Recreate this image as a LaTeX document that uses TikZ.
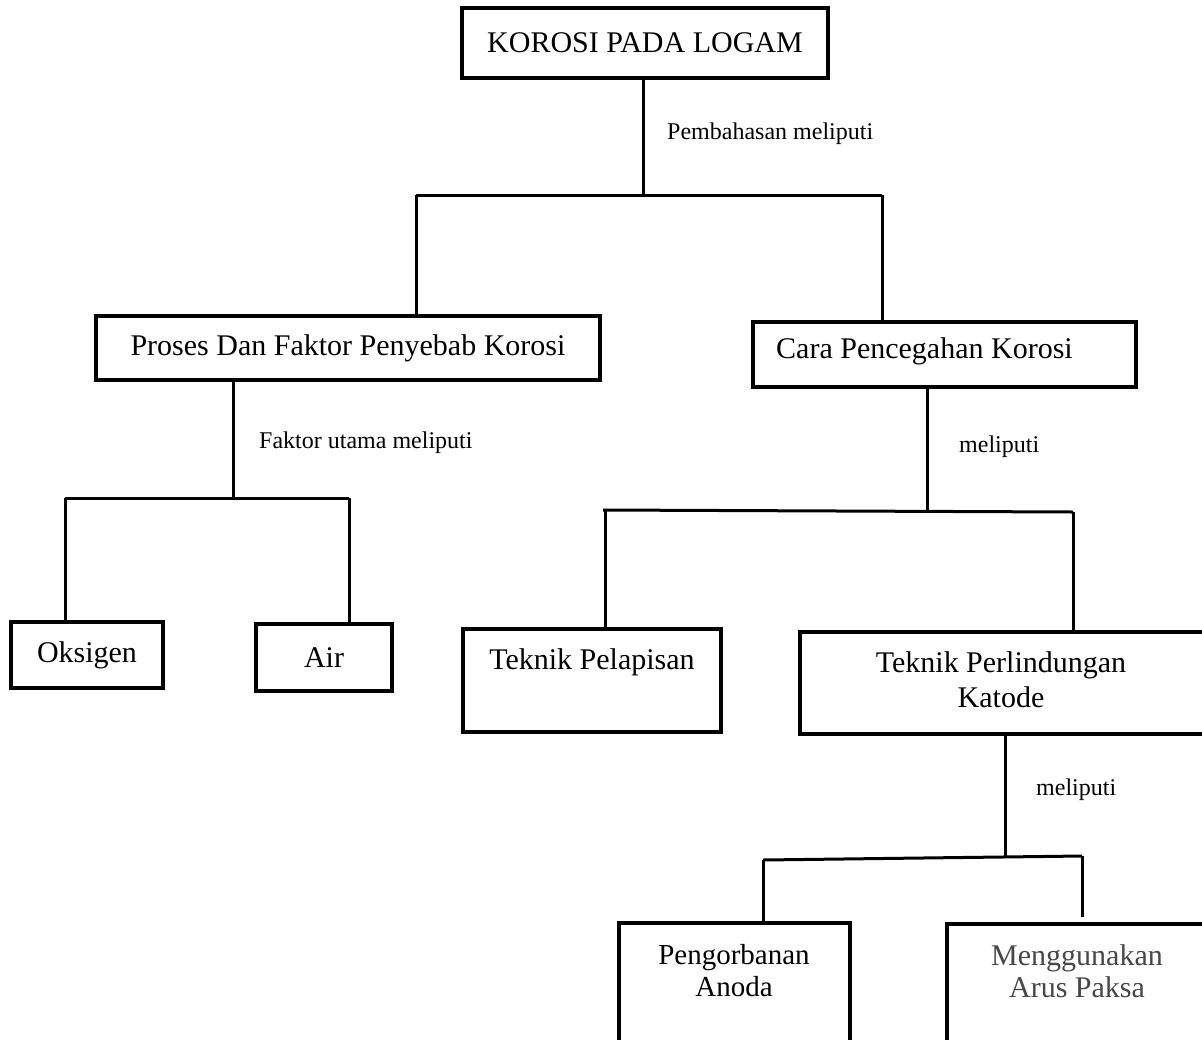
\documentclass[tikz,border=0pt]{standalone}
\usepackage{fontspec}
\setmainfont{Liberation Serif}
\tikzset{
  box/.style={draw, line width=3.6pt, inner sep=0pt, font=\fontsize{30}{35}\selectfont},
  boxtext/.style={inner sep=0pt, align=center, font=\fontsize{30}{35}\selectfont},
  lbl/.style={inner sep=0pt, anchor=west, font=\fontsize{24}{28}\selectfont},
  link/.style={line width=3pt}
}
\begin{document}
\begin{tikzpicture}[x=1pt, y=-1pt]
      \useasboundingbox (0,0) rectangle (1202,1039);
      \clip (0,0) rectangle (1202,1039);
      \node[box, minimum width=366, minimum height=70] (top) at (645,43) {KOROSI PADA LOGAM};
      \node[box, minimum width=504, minimum height=64] (proses) at (348,348) {Proses Dan Faktor Penyebab Korosi};
      \node[box, minimum width=383, minimum height=65] (cara) at (944.5,354.5) {};
      \node[boxtext, anchor=west] (caratxt) at (776,351) {Cara Pencegahan Korosi};
      \node[box, minimum width=152, minimum height=66] (oksigen) at (87,655) {Oksigen};
      \node[box, minimum width=136, minimum height=67] (air) at (324,657.5) {Air};
      \node[box, minimum width=258, minimum height=103] (lapis) at (592,680.5) {};
      \node[boxtext] (lapistxt) at (592,662) {Teknik Pelapisan};
      \node[box, minimum width=415, minimum height=102] (katode) at (1007.5,683) {};
      \node[boxtext] (katodetxt) at (1001,680) {Teknik Perlindungan\\Katode};
      \node[box, minimum width=231, minimum height=137] (anoda) at (734.5,991.5) {};
      \node[boxtext, font=\fontsize{29}{32}\selectfont] (anodatxt) at (734,971) {Pengorbanan\\Anoda};
      \node[box, minimum width=273, minimum height=136] (arus) at (1083.5,992) {};
      \node[boxtext, text=black!72, font=\fontsize{30}{32}\selectfont] (arustxt) at (1077,971) {Menggunakan\\Arus Paksa};
      \node[lbl] (l1) at (667,134) {Pembahasan meliputi};
      \node[lbl] (l2) at (259,443) {Faktor utama meliputi};
      \node[lbl] (l3) at (959,447) {meliputi};
      \node[lbl] (l4) at (1036,790) {meliputi};
      \coordinate (a1) at (643,195);
      \coordinate (a2) at (416,195);
      \coordinate (a3) at (882,195);
      \coordinate (b1) at (233,498);
      \coordinate (b2) at (65,498);
      \coordinate (b3) at (349,498);
      \coordinate (c1) at (927,511);
      \coordinate (c2) at (603,510);
      \coordinate (c3) at (1073,512);
      \coordinate (d1) at (1005,857);
      \coordinate (d2) at (763,860);
      \coordinate (d3) at (1082,856);
      \begin{scope}[link]
        \draw (top.south -| a1) to (a1);
        \draw (a2) to (a3);
        \draw (a2) to (a2 |- proses.north);
        \draw (a3) to (a3 |- cara.north);
        \draw (proses.south -| b1) to (b1);
        \draw (b2) to (b3);
        \draw (b2) to (b2 |- oksigen.north);
        \draw (b3) to (b3 |- air.north);
        \draw (cara.south -| c1) to (c1);
        \draw (c2) to (c3);
        \draw ([xshift=2pt]c2) to ([xshift=2pt]c2 |- lapis.north);
        \draw (c3) to (c3 |- katode.north);
        \draw (katode.south -| d1) to (d1);
        \draw (d2) to (d3);
        \draw (d2) to (d2 |- anoda.north);
        \draw (d3) to ([yshift=5pt]d3 |- arus.north);
      \end{scope}
    \end{tikzpicture}
\end{document}
